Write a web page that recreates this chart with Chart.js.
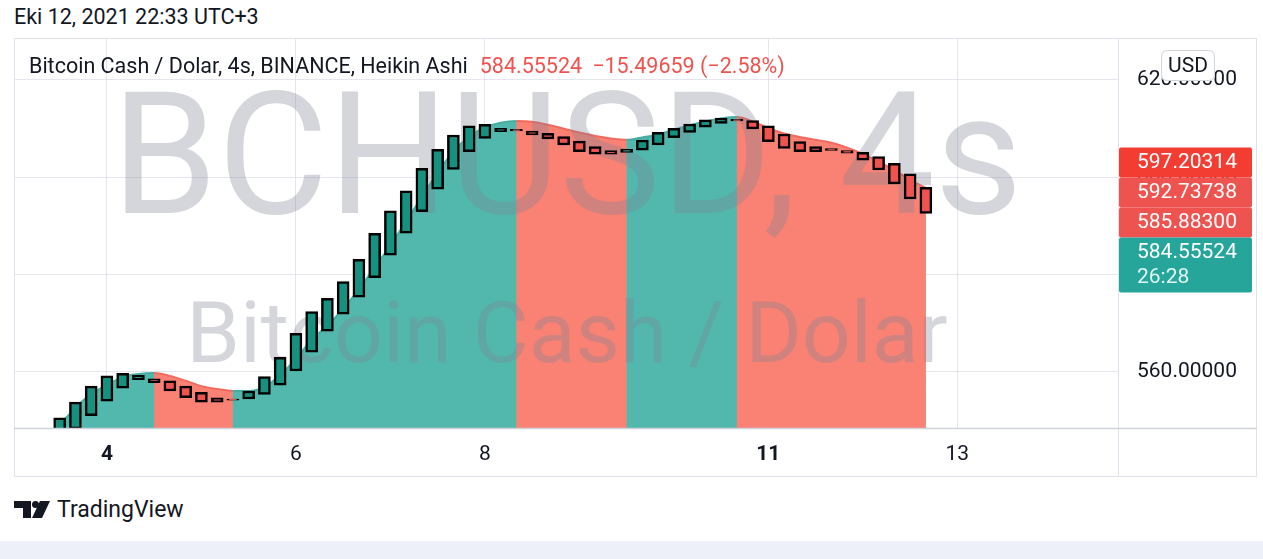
<!DOCTYPE html>
<html>
<head>
<meta charset="utf-8">
<script src="https://cdn.jsdelivr.net/npm/chart.js@4.4.0/dist/chart.umd.min.js"></script>
<style>
html,body{margin:0;padding:0;background:#fff;width:1263px;height:559px;overflow:hidden;font-family:Roboto,'Noto Sans',sans-serif;color:#131722;}
#date{position:absolute;left:14px;top:5px;font-size:21.5px;line-height:24px;white-space:nowrap;}
#frame{position:absolute;left:14px;top:38px;width:1243px;height:439px;}
#legend{position:absolute;left:29px;top:54px;font-size:21.5px;line-height:24px;white-space:nowrap;}
#legend .red{color:#ef5350;margin-left:12px;}
#legend .red2{color:#ef5350;margin-left:10px;}
#brand{position:absolute;left:14px;top:497px;height:26px;white-space:nowrap;}
#brand svg{position:absolute;left:0;top:4px;}
#brand span{position:absolute;left:43px;top:0;font-size:23px;line-height:26px;color:#131722;}
#band{position:absolute;left:0;top:541px;width:1263px;height:18px;background:#eef0f9;}
</style>
</head>
<body>
<div id="date">Eki 12, 2021 22:33 UTC+3</div>
<div id="frame"><canvas id="c"></canvas></div>
<div id="legend">Bitcoin Cash / Dolar, 4s, BINANCE, Heikin Ashi<span class="red">584.55524</span><span class="red2">−15.49659 (−2.58%)</span></div>
<div id="brand">
<svg width="36" height="18" viewBox="0 0 36 18"><path d="M0 0h17v17h-8v-10h-9z" fill="#131722"/><circle cx="21.5" cy="3.5" r="3.5" fill="#131722"/><path d="M26 0h10l-8 17h-10z" fill="#131722"/></svg>
<span>TradingView</span>
</div>
<div id="band"></div>
<script>
// ---- data (4h Heikin Ashi candles, first candle 3 bars before Oct 4 00:00) ----
const firstCandleOffset = -3;
const candleOpen = [
  547.0, 548.3, 551.0, 554.0, 556.7, 558.4, 558.6, 558.2, 557.1, 555.8,
  554.7, 554.45, 554.45, 555.4, 557.3, 560.2, 564.05, 568.4, 571.9, 575.35,
  579.4, 584.0, 588.5, 592.95, 597.55, 601.65, 605.25, 608.0, 609.4, 609.85,
  609.5, 609.05, 608.35, 607.45, 606.3, 605.5, 605.1, 605.6, 606.65, 608.15,
  609.25, 610.3, 611.1, 611.9, 611.65, 610.6, 608.9, 607.35, 606.3, 605.9,
  605.5, 605.15, 604.25, 602.9, 600.7, 597.95
];
const candleClose = [
  550.6, 553.8, 557.1, 559.2, 559.7, 559.3, 557.8, 556.1, 554.7, 553.8,
  553.8, 554.2, 556.1, 559.05, 563.0, 567.95, 572.4, 575.15, 578.6, 583.15,
  588.5, 593.1, 597.25, 601.85, 605.75, 608.7, 610.6, 610.9, 610.05, 609.55,
  608.7, 607.9, 606.65, 605.25, 604.75, 604.75, 605.75, 607.65, 609.25, 610.05,
  610.95, 611.8, 612.15, 611.6, 609.95, 607.35, 605.95, 605.25, 605.25, 605.55,
  604.95, 603.55, 601.5, 598.65, 595.55, 592.6
];
const areaClose = [
  549.1, 552.6, 555.5, 557.3, 559.0, 559.6, 559.8, 559.2, 558.2, 557.1,
  556.5, 556.1, 556.1, 556.9, 559.4, 562.7, 566.6, 569.5, 573.0, 577.0,
  581.5, 586.0, 591.0, 596.0, 601.0, 605.3, 608.4, 610.2, 611.2, 611.6,
  611.4, 610.8, 610.0, 609.2, 608.5, 608.0, 607.7, 608.2, 608.8, 609.8,
  610.7, 611.5, 612.1, 612.4, 611.5, 610.1, 609.0, 608.3, 607.7, 607.1,
  606.1, 604.8, 603.2, 601.5, 599.5, 597.8
];
const areaFlipAt = [3, 8, 26, 33, 40];      // bar positions where area colour flips (starts up)
const dayTickPos = [0, 12, 24, 42, 54];
const dayTickLabels = ['4', '6', '8', '11', '13'];
const dayTickBold = [true, false, false, true, false];
const priceTicks = [560, 580, 600, 620];
const priceLabelValues = [597.20314, 592.73738, 585.88300, 584.55524];
const priceLabelColors = ['#f33d33', '#ef5350', '#ef5350', '#26a69a'];
const countdownText = '26:28';
const watermarkLines = ['BCHUSD, 4s', 'Bitcoin Cash / Dolar'];
const currencyText = 'USD';

// ---- styles ----
const UP_BODY = '#16907f', DOWN_BODY = '#ef5350';
const UP_AREA = '#52b8ad', DOWN_AREA = '#f98274', MID_AREA = '#a89d91';
const UP_LINE = '#44ada1', DOWN_LINE = '#f26a5f';
const GRID = 'rgba(220,220,232,0.75)';
const FONT = 'Roboto';
const AXIS_FONT = 21;

function areaUp(pos) { let up = true; for (const f of areaFlipAt) if (pos >= f) up = !up; return up; }

const candleData = candleOpen.map((o, i) => ({ x: i + firstCandleOffset, y: [o, candleClose[i]] }));
const areaData = areaClose.map((v, i) => ({ x: i + firstCandleOffset, y: v }));

const watermark = {
  id: 'watermark',
  beforeDatasetDraw(chart, args) {
    if (args.index !== 1) return;
    const { ctx, chartArea: a } = chart;
    ctx.save();
    ctx.beginPath(); ctx.rect(a.left, a.top, a.right - a.left, a.bottom - a.top); ctx.clip();
    ctx.fillStyle = 'rgba(125,130,150,0.33)';
    ctx.textAlign = 'center'; ctx.textBaseline = 'alphabetic';
    const cx = (a.left + a.right) / 2 + 1;
    ctx.font = '170px ' + FONT;
    ctx.fillText(watermarkLines[0], cx, a.top + 175);
    ctx.font = '86px ' + FONT;
    ctx.fillText(watermarkLines[1], cx, a.top + 324);
    ctx.restore();
  }
};

function rr(ctx, x, y, w, h, r) {
  ctx.beginPath();
  ctx.moveTo(x + r, y); ctx.lineTo(x + w - r, y); ctx.quadraticCurveTo(x + w, y, x + w, y + r);
  ctx.lineTo(x + w, y + h - r); ctx.quadraticCurveTo(x + w, y + h, x + w - r, y + h);
  ctx.lineTo(x + r, y + h); ctx.quadraticCurveTo(x, y + h, x, y + h - r);
  ctx.lineTo(x, y + r); ctx.quadraticCurveTo(x, y, x + r, y); ctx.closePath();
}

const overlay = {
  id: 'overlay',
  afterDraw(chart) {
    const { ctx, chartArea: a, width, height } = chart;
    const ys = chart.scales.y;
    ctx.save();
    // frame
    ctx.strokeStyle = '#e0e3eb'; ctx.lineWidth = 1;
    ctx.strokeRect(0.5, 0.5, width - 1, height - 1);
    ctx.beginPath(); ctx.moveTo(Math.round(a.right) + 0.5, 0); ctx.lineTo(Math.round(a.right) + 0.5, height); ctx.stroke();
    ctx.strokeStyle = '#cfd2da'; ctx.lineWidth = 1.5;
    ctx.beginPath(); ctx.moveTo(0, a.bottom + 0.5); ctx.lineTo(width, a.bottom + 0.5); ctx.stroke();
    // price labels
    const n = priceLabelValues.length;
    const x0 = a.right + 1, w = 133;
    const lastTop = ys.getPixelForValue(priceLabelValues[n - 1]) - 15;
    ctx.font = AXIS_FONT + 'px ' + FONT; ctx.textAlign = 'left'; ctx.textBaseline = 'middle';
    for (let k = 0; k < n; k++) {
      const top = lastTop - 30 * (n - 1 - k);
      const h = (k === n - 1) ? 55 : 30;
      ctx.fillStyle = priceLabelColors[k];
      rr(ctx, x0, top, w, h, 2); ctx.fill();
      ctx.fillStyle = '#ffffff';
      ctx.fillText(priceLabelValues[k].toFixed(5), x0 + 18, top + 15.5);
      if (k === n - 1) { ctx.fillStyle = '#dff5f2'; ctx.fillText(countdownText, x0 + 18, top + 40); }
    }
    // currency button
    const bx = 1147, by = 12, bw = 54, bh = 31;
    ctx.fillStyle = '#ffffff'; rr(ctx, bx, by, bw, bh, 6); ctx.fill();
    ctx.strokeStyle = '#d1d4dc'; ctx.lineWidth = 1; rr(ctx, bx + 0.5, by + 0.5, bw - 1, bh - 1, 6); ctx.stroke();
    ctx.fillStyle = '#131722'; ctx.textAlign = 'center';
    ctx.fillText(currencyText, bx + bw / 2, by + bh / 2 + 1);
    ctx.restore();
  }
};

function build() {
  new Chart(document.getElementById('c'), {
    type: 'bar',
    data: {
      datasets: [
        {
          type: 'line', order: 2, data: areaData,
          borderWidth: 2, pointRadius: 0, cubicInterpolationMode: 'monotone',
          fill: 'start',
          backgroundColor: UP_AREA, borderColor: UP_LINE,
          segment: {
            backgroundColor: c => areaUp(c.p0DataIndex + firstCandleOffset) ? UP_AREA : DOWN_AREA,
            borderColor: c => areaUp(c.p0DataIndex + firstCandleOffset) ? UP_LINE : DOWN_LINE
          }
        },
        {
          type: 'bar', order: 1, data: candleData,
          barThickness: 12, borderWidth: 2.5, borderColor: '#000000', borderSkipped: false,
          backgroundColor: c => (candleClose[c.dataIndex] >= candleOpen[c.dataIndex]) ? UP_BODY : DOWN_BODY
        },
        {
          // underlay that hides hairline seams between the coloured area segments
          type: 'line', order: 3, data: areaData,
          borderWidth: 0, pointRadius: 0, cubicInterpolationMode: 'monotone',
          fill: 'start', backgroundColor: MID_AREA, borderColor: 'rgba(0,0,0,0)'
        }
      ]
    },
    options: {
      responsive: true, maintainAspectRatio: false, animation: false, events: [],
      layout: { padding: 0 },
      plugins: { legend: { display: false }, tooltip: { enabled: false } },
      scales: {
        x: {
          type: 'linear', offset: false, min: -5.9, max: 64.2,
          grid: { offset: false, color: GRID, drawTicks: false },
          border: { display: false },
          afterBuildTicks: s => { s.ticks = dayTickPos.map(v => ({ value: v })); },
          afterFit: s => { s.height = 49; s.paddingLeft = 0; s.paddingRight = 0; },
          ticks: {
            autoSkip: false, maxRotation: 0, padding: 14, color: '#131722',
            font: c => ({ family: FONT, size: AXIS_FONT, weight: dayTickBold[c.index] ? 'bold' : 'normal' }),
            callback: (v, i) => dayTickLabels[i]
          }
        },
        y: {
          position: 'right', min: 548.49, max: 628.63,
          grid: { color: GRID, drawTicks: false },
          border: { display: false },
          afterBuildTicks: s => { s.ticks = priceTicks.map(v => ({ value: v })); },
          afterFit: s => { s.width = 139; s.paddingTop = 0; s.paddingBottom = 0; },
          ticks: { padding: 19, color: '#131722', font: { family: FONT, size: AXIS_FONT }, callback: v => Number(v).toFixed(5) }
        }
      }
    },
    plugins: [watermark, overlay]
  });
}
(document.fonts && document.fonts.load ? Promise.all([document.fonts.load('20px Roboto'), document.fonts.load('bold 20px Roboto')]).catch(() => {}) : Promise.resolve()).then(build);
</script>
</body>
</html>
